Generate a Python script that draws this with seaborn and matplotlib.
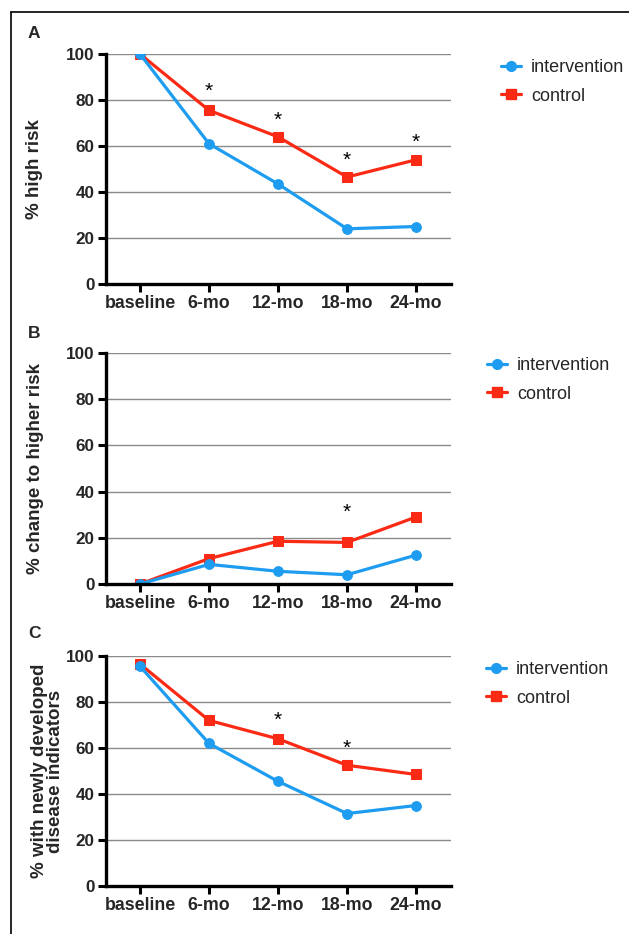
import matplotlib
matplotlib.use("Agg")
import matplotlib.pyplot as plt
import seaborn as sns
import pandas as pd
from matplotlib.lines import Line2D

# ---- data ----
timepoints = ["baseline", "6-mo", "12-mo", "18-mo", "24-mo"]
groups = ["intervention", "control"]

a_intervention = [100, 61, 43.5, 24, 25]
a_control = [100, 75.5, 64, 46.5, 54]
a_star_x = ["6-mo", "12-mo", "18-mo", "24-mo"]
a_star_y = [83.6, 71.2, 53.6, 61.6]

b_intervention = [0, 8.5, 5.5, 4, 12.5]
b_control = [0, 11, 18.5, 18, 29]
b_star_x = ["18-mo"]
b_star_y = [31.2]

c_intervention = [95.5, 62, 45.5, 31.5, 35]
c_control = [96.5, 72, 64, 52.5, 48.5]
c_star_x = ["12-mo", "18-mo"]
c_star_y = [72.2, 60.0]

ylabels = ["% high risk", "% change to higher risk",
           "% with newly developed\ndisease indicators"]
panel_letters = ["A", "B", "C"]
yticks = [0, 20, 40, 60, 80, 100]

BLUE = "#1E9CF0"
RED = "#FA2A14"

sns.set_style("white")
plt.rcParams["font.family"] = ["Liberation Sans", "DejaVu Sans"]

W, H = 629, 934
fig = plt.figure(figsize=(W / 100, H / 100), dpi=100)

def fx(px):
    return px / W

def fy(py):
    return 1 - py / H

# frame lines (top and left)
fig.add_artist(Line2D([fx(11), 1], [fy(12), fy(12)], color="black", lw=1.2))
fig.add_artist(Line2D([fx(11), fx(11)], [fy(12), 0], color="black", lw=1.2))

panels = [
    dict(top=54, bot=284, i=a_intervention, c=a_control, sx=a_star_x, sy=a_star_y,
         leg_x=501, leg_y=82, lab_x=43, letter_y=34),
    dict(top=353, bot=584, i=b_intervention, c=b_control, sx=b_star_x, sy=b_star_y,
         leg_x=487, leg_y=380, lab_x=44, letter_y=334),
    dict(top=656, bot=886, i=c_intervention, c=c_control, sx=c_star_x, sy=c_star_y,
         leg_x=486, leg_y=684, lab_x=64, letter_y=633),
]

left_px, right_px = 105.5, 450.5

for k, p in enumerate(panels):
    ax = fig.add_axes([fx(left_px), fy(p["bot"]), (right_px - left_px) / W,
                       (p["bot"] - p["top"]) / H])
    ax.set_facecolor("none")
    for yv in yticks[1:]:
        ax.axhline(yv, color="#8a8a8a", lw=1.0, zorder=0)

    df_c = pd.DataFrame({"time": timepoints, "value": p["c"], "group": "control"})
    df_i = pd.DataFrame({"time": timepoints, "value": p["i"], "group": "intervention"})
    sns.lineplot(data=df_c, x="time", y="value", color=RED, marker="s",
                 markersize=7, markeredgecolor=RED, lw=2.3, ax=ax, zorder=3,
                 label="control", legend=False)
    sns.lineplot(data=df_i, x="time", y="value", color=BLUE, marker="o",
                 markersize=7, markeredgecolor=BLUE, lw=2.3, ax=ax, zorder=4,
                 label="intervention", legend=False)

    for sx, sy in zip(p["sx"], p["sy"]):
        ax.text(timepoints.index(sx), sy, "*", ha="center", va="center",
                fontsize=15, color="black")

    ax.set_xlim(-0.5, 4.5)
    ax.set_ylim(0, 100)
    ax.set_yticks(yticks)
    ax.set_xticks(range(len(timepoints)))
    ax.set_xticklabels(timepoints)
    ax.set_xlabel("")
    ax.set_ylabel(ylabels[k], fontsize=13.5, fontweight="bold", linespacing=0.9)
    ax.yaxis.set_label_coords((p["lab_x"] - left_px) / (right_px - left_px), 0.5)
    for lab in ax.get_xticklabels():
        lab.set_fontweight("bold")
        lab.set_fontsize(12.8)
    for lab in ax.get_yticklabels():
        lab.set_fontweight("bold")
        lab.set_fontsize(12.3)
    ax.tick_params(axis="both", direction="out", length=6, width=2.2,
                   color="black", pad=2, left=True, bottom=True)
    sns.despine(ax=ax)
    for s in ["left", "bottom"]:
        ax.spines[s].set_linewidth(2.4)
        ax.spines[s].set_color("black")
    ax.spines["bottom"].set_zorder(5)

    handles = [
        Line2D([], [], color=BLUE, marker="o", markersize=7, lw=2.3),
        Line2D([], [], color=RED, marker="s", markersize=7, lw=2.3),
    ]
    ax.legend(handles, groups, loc="center left",
              bbox_to_anchor=(fx(p["leg_x"]), fy(p["leg_y"])),
              bbox_transform=fig.transFigure, frameon=False, fontsize=13,
              handlelength=1.1, handletextpad=0.55, labelspacing=0.63,
              borderpad=0, borderaxespad=0)

    fig.text(fx(28), fy(p["letter_y"]), panel_letters[k], fontsize=12.5,
             fontweight="bold", ha="left", va="center")

fig.savefig("out.png", dpi=100)
